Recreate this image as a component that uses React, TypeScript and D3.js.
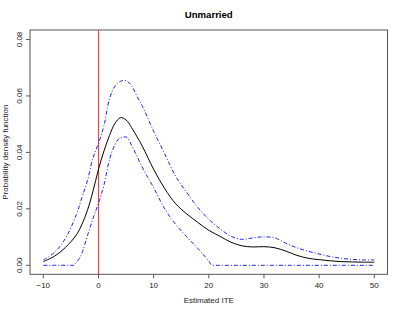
import React from "react";
import * as d3 from "d3";

const ite = [-10, -8, -6, -4, -3, -2, -1, 0, 1, 2, 3, 4, 5, 6, 7, 8, 10, 12, 14, 16, 18, 20, 22, 24, 26, 28, 30, 32, 34, 36, 38, 40, 42, 44, 46, 48, 50];
const densityMean = [0.0013, 0.0032, 0.0063, 0.0108, 0.0145, 0.0195, 0.0262, 0.034, 0.0405, 0.046, 0.0503, 0.0523, 0.0515, 0.0488, 0.0455, 0.042, 0.034, 0.0272, 0.0218, 0.0182, 0.0152, 0.0124, 0.0103, 0.0082, 0.0069, 0.0065, 0.0066, 0.0062, 0.005, 0.0035, 0.0025, 0.002, 0.0016, 0.0013, 0.0012, 0.0011, 0.0011];
const densityUpper = [0.0019, 0.0045, 0.0095, 0.018, 0.024, 0.03, 0.038, 0.0432, 0.0495, 0.059, 0.0635, 0.0652, 0.0654, 0.0636, 0.0598, 0.0562, 0.0475, 0.0395, 0.0315, 0.0258, 0.0205, 0.0163, 0.013, 0.0103, 0.0092, 0.0097, 0.0101, 0.0097, 0.0078, 0.0062, 0.005, 0.004, 0.0031, 0.0025, 0.0021, 0.0019, 0.0019];
const lowerX = [-10, -8, -6, -4.5, -4, -3, -2, -1, 0, 1, 2, 3, 4, 5, 6, 7, 8, 10, 12, 14, 16, 18, 20, 20.6, 25, 30, 35, 40, 45, 50];
const densityLower = [0, 0, 0, 0, 0.001, 0.0043, 0.0105, 0.0165, 0.022, 0.0285, 0.0375, 0.0428, 0.0452, 0.0455, 0.0425, 0.0385, 0.0345, 0.0275, 0.02, 0.0145, 0.0101, 0.006, 0.0015, 0, 0, 0, 0, 0, 0, 0];

const xTicks = [-10, 0, 10, 20, 30, 40, 50];
const xTickLabels = ["\u221210", "0", "10", "20", "30", "40", "50"];
const yTicks = [0, 0.02, 0.04, 0.06, 0.08];
const yTickLabels = ["0.00", "0.02", "0.04", "0.06", "0.08"];
const refLine = 0;

const title = "Unmarried";
const xTitle = "Estimated ITE";
const yTitle = "Probability density function";

export default function App() {
  const W = 403, H = 312;
  const left = 30, right = 387.5, top = 30, bottom = 274.3;
  const x = d3.scaleLinear().domain([-10, 50]).range([43.3, 374.3]);
  const y = d3.scaleLinear().domain([0, 0.08]).range([265.3, 39.5]);
  const smooth = d3.line<[number, number]>().x(d => x(d[0])).y(d => y(d[1])).curve(d3.curveCatmullRom.alpha(0.5));
  const mono = d3.line<[number, number]>().x(d => x(d[0])).y(d => y(d[1])).curve(d3.curveMonotoneX);
  const meanPts = ite.map((v, i) => [v, densityMean[i]] as [number, number]);
  const upPts = ite.map((v, i) => [v, densityUpper[i]] as [number, number]);
  const loPts = lowerX.map((v, i) => [v, densityLower[i]] as [number, number]);
  const font = "'Liberation Sans', Arial, Helvetica, sans-serif";
  const dash = "4,2,1,2";
  return (
    <svg width={W} height={H} style={{ position: "absolute", left: 0, top: 0, background: "#fff" }} fontFamily={font}>
      <rect x={0} y={0} width={W} height={H} fill="#fff" />
      <line x1={x(refLine)} x2={x(refLine)} y1={top} y2={bottom} stroke="#ff3030" strokeWidth={1} />
      <path d={smooth(upPts) || ""} fill="none" stroke="#2020ff" strokeWidth={1} strokeDasharray={dash} />
      <path d={mono(loPts) || ""} fill="none" stroke="#2020ff" strokeWidth={1} strokeDasharray={dash} />
      <path d={smooth(meanPts) || ""} fill="none" stroke="#000" strokeWidth={1} />
      <rect x={left} y={top} width={right - left} height={bottom - top} fill="none" stroke="#555" strokeWidth={1} />
      {xTicks.map((t, i) => (
        <g key={"x" + t}>
          <line x1={x(t)} x2={x(t)} y1={bottom} y2={bottom + 4} stroke="#555" />
          <text x={x(t)} y={288} fontSize={8} textAnchor="middle" fill="#222">{xTickLabels[i]}</text>
        </g>
      ))}
      {yTicks.map((t, i) => (
        <g key={"y" + t}>
          <line x1={left - 4} x2={left} y1={y(t)} y2={y(t)} stroke="#555" />
          <text transform={`translate(21.5,${y(t)}) rotate(-90)`} fontSize={8} textAnchor="middle" fill="#222">{yTickLabels[i]}</text>
        </g>
      ))}
      <text x={(left + right) / 2} y={18} fontSize={9.6} fontWeight="bold" textAnchor="middle" fill="#000">{title}</text>
      <text x={(left + right) / 2} y={303} fontSize={8} textAnchor="middle" fill="#222">{xTitle}</text>
      <text transform={`translate(7.5,${(top + bottom) / 2}) rotate(-90)`} fontSize={8} textAnchor="middle" fill="#222">{yTitle}</text>
    </svg>
  );
}
